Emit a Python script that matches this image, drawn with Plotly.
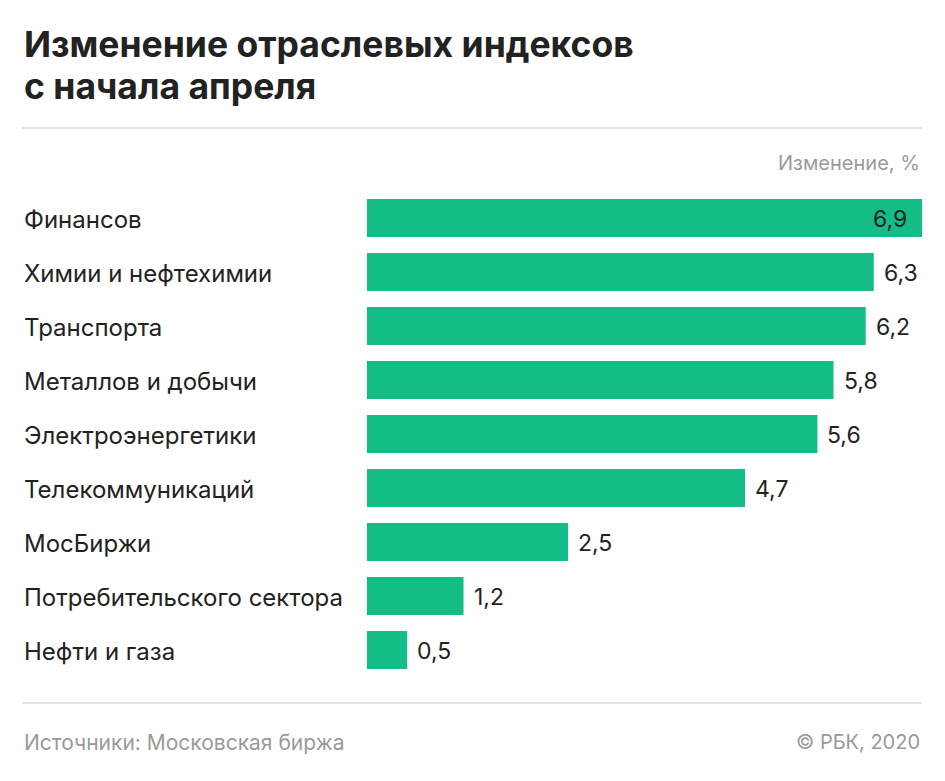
import plotly.graph_objects as go

categories = ["Финансов", "Химии и нефтехимии", "Транспорта", "Металлов и добычи",
              "Электроэнергетики", "Телекоммуникаций", "МосБиржи",
              "Потребительского сектора", "Нефти и газа"]
values = [6.9, 6.3, 6.2, 5.8, 5.6, 4.7, 2.5, 1.2, 0.5]
value_labels = ["6,9", "6,3", "6,2", "5,8", "5,6", "4,7", "2,5", "1,2", "0,5"]

OFF = 8  # page body margin
W, H = 945 - 2 * OFF, 781 - 2 * OFF
L_abs, R_abs, T_abs, B_abs = 367, 922, 191, 677
L = L_abs - OFF
T = T_abs - OFF
R = W - (R_abs - OFF)
B = H - (B_abs - OFF)
pw, ph = W - L - R, H - T - B

def px(x):
    return (x - OFF - L) / pw

def py(y):
    return (H - B - (y - OFF)) / ph

GREEN = "#14bd87"
FONT = "Inter"
TXT = "#222222"
GRAY = "#9a9a9a"
LBL = 24
VAL = 23

fig = go.Figure(go.Bar(
    x=values, y=categories, orientation="h",
    marker=dict(color=GREEN, line=dict(width=0)),
    hoverinfo="skip",
))

ann = []
for i, (c, v, t) in enumerate(zip(categories, values, value_labels)):
    ann.append(dict(x=px(22), xref="paper", y=c, yref="y", text=c, showarrow=False,
                    xanchor="left", yanchor="middle", yshift=-1,
                    font=dict(family=FONT, size=LBL, color=TXT)))
    if i == 0:
        ann.append(dict(x=v, xref="x", y=c, yref="y", text=t, showarrow=False,
                        xanchor="right", yanchor="middle", xshift=-13, yshift=-1,
                        font=dict(family=FONT, size=VAL, color=TXT)))
    else:
        ann.append(dict(x=v, xref="x", y=c, yref="y", text=t, showarrow=False,
                        xanchor="left", yanchor="middle", xshift=8, yshift=-1,
                        font=dict(family=FONT, size=VAL, color=TXT)))

title_html = ('<span style="font-size:35.5px"><b>Изменение отраслевых индексов</b></span><br>'
              '<span style="font-size:35.5px"><b>с начала апреля</b></span>')

ann += [
    dict(x=px(22), y=py(66), xref="paper", yref="paper", text=title_html,
         showarrow=False, xanchor="left", yanchor="middle", align="left",
         font=dict(family=FONT, size=32.3, color=TXT)),
    dict(x=px(922), y=py(163), xref="paper", yref="paper", text="Изменение, %",
         showarrow=False, xanchor="right", yanchor="middle",
         font=dict(family=FONT, size=20, color=GRAY)),
    dict(x=px(22), y=py(742), xref="paper", yref="paper", text="Источники: Московская биржа",
         showarrow=False, xanchor="left", yanchor="middle",
         font=dict(family=FONT, size=21, color=GRAY)),
    dict(x=px(922), y=py(742), xref="paper", yref="paper", text="© РБК, 2020",
         showarrow=False, xanchor="right", yanchor="middle",
         font=dict(family=FONT, size=20, color=GRAY)),
]

shapes = [
    dict(type="line", xref="paper", yref="paper", x0=px(22), x1=px(922), y0=py(128), y1=py(128),
         line=dict(color="#dcdcdc", width=1.5)),
    dict(type="line", xref="paper", yref="paper", x0=px(22), x1=px(922), y0=py(703), y1=py(703),
         line=dict(color="#dcdcdc", width=1.5)),
]

fig.update_layout(
    width=W, height=H,
    margin=dict(l=L, r=R, t=T, b=B, pad=0),
    paper_bgcolor="white", plot_bgcolor="white",
    bargap=16/54,
    showlegend=False,
    xaxis=dict(range=[0, 6.9], visible=False, fixedrange=True),
    yaxis=dict(autorange="reversed", visible=False, fixedrange=True),
    annotations=ann, shapes=shapes,
    font=dict(family=FONT),
)

fig.write_html("out.html", config={"displayModeBar": False})
